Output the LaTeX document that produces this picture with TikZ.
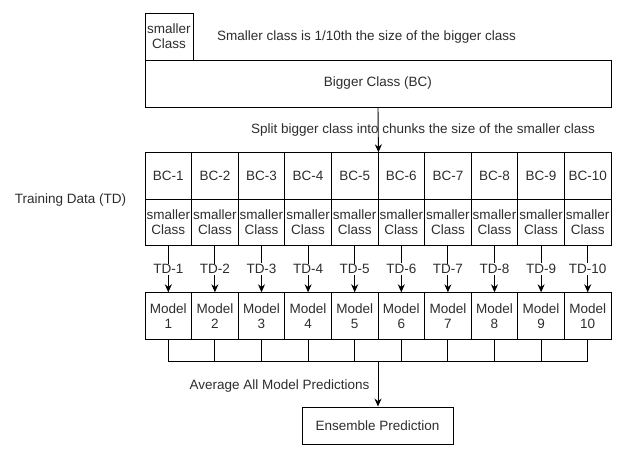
\documentclass[tikz,border=0pt]{standalone}
\usepackage{fontspec}
\setmainfont{Liberation Sans}
\usetikzlibrary{arrows.meta}
\definecolor{txt}{RGB}{45,45,45}
\begin{document}
\begin{tikzpicture}[x=1pt,y=-1pt,
  every node/.style={font=\fontsize{13.5}{15}\selectfont, text=txt},
  box/.style={draw=black, line width=0.9pt, inner sep=0pt, align=center},
  cell/.style={box, minimum width=46.6pt, minimum height=46.5pt},
  ln/.style={draw=black, line width=0.9pt},
  arr/.style={ln, -{Stealth[length=8pt,width=7pt]}},
  lbl/.style={inner sep=1pt, fill=white}]
\useasboundingbox (0,0) rectangle (625,454);
% top
\node[box, minimum width=48pt, minimum height=47pt] (small) at (169,36.5) {smaller\\Class};
\node (note1) at (366.5,37) {Smaller class is 1/10th the size of the bigger class};
\node[box, minimum width=466pt, minimum height=47pt] (big) at (378,83.5) {Bigger Class (BC)};
\node (note2) at (423,130) {Split bigger class into chunks the size of the smaller class};
\node (tdlab) at (70.5,200) {Training Data (TD)};
% grid
\foreach \i in {1,...,10} {
  \pgfmathsetmacro{\cx}{145+46.6*(\i-0.5)}
  \node[cell] (bc\i) at (\cx,176) {BC-\i};
  \node[cell] (s\i) at (\cx,222.5) {smaller\\Class};
  \node[cell] (m\i) at (\cx,316) {Model\\\i};
  \draw[arr] (s\i.south) -- node[lbl] {TD-\i} (m\i.north);
}
\draw[arr] (big.south) -- (bc5.north east);
% bus
\coordinate (bus) at (378,361);
\foreach \i in {1,...,10} {
  \draw[ln] (m\i.south) -- (m\i.south |- bus);
}
\draw[ln] (m1.south |- bus) -- (m10.south |- bus);
\node[box, minimum width=151pt, minimum height=37pt] (ens) at (377.5,425.5) {Ensemble Prediction};
\draw[arr] (bus) -- (bus |- ens.north);
\node[anchor=east] (avg) at (373,386) {Average All Model Predictions};
\end{tikzpicture}
\end{document}
